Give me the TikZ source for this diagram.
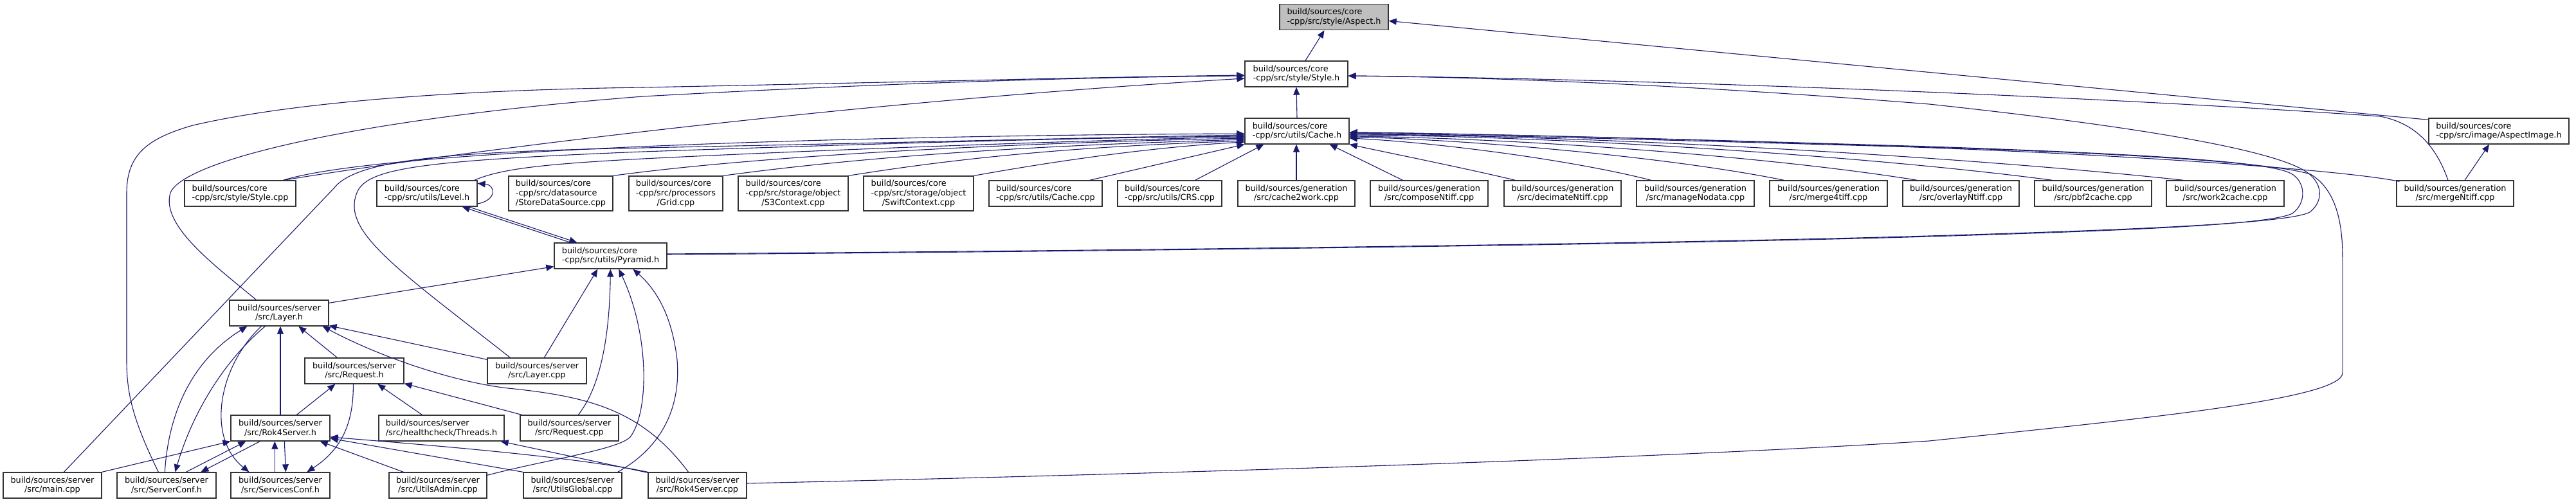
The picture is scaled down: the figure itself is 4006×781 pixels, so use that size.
\documentclass[tikz,border=0pt]{standalone}
\usepackage{fontspec}
\setmainfont{DejaVu Sans}
\usepackage{calc}
\usetikzlibrary{arrows.meta,calc}
\definecolor{edgeblue}{HTML}{191970}
\definecolor{boxgrey}{HTML}{BFBFBF}
\newcommand\lft[2]{\makebox[\widthof{#2}][l]{#1}}
\newcommand\core[1]{\lft{build/sources/core}{#1}\\#1}
\newcommand\corethree[2]{\lft{build/sources/core}{#1}\\#1\\#2}
\begin{document}
\begin{tikzpicture}[x=1pt,y=-1pt,
  box/.style={draw=black!80, line width=1.3pt, fill=white, inner sep=0pt, align=center,
    font=\fontsize{12.8}{14.7}\selectfont, minimum height=40pt},
  tall/.style={minimum height=54pt},
  edge/.style={draw=edgeblue, line width=1.1pt, -{Triangle[length=12pt,width=10pt]}},
]
\useasboundingbox (0,0) rectangle (4006,781);

% ---- nodes ----
\node[box, fill=boxgrey, minimum width=169pt] (aspect) at (2074.5,26.5) {\core{-cpp/src/style/Aspect.h}};
\node[box, minimum width=160pt] (styleh) at (2016,115) {\core{-cpp/src/style/Style.h}};
\node[box, minimum width=162pt] (cacheh) at (2017,204) {\core{-cpp/src/utils/Cache.h}};
\node[box, minimum width=218pt] (aimg) at (3886,204) {\core{-cpp/src/image/AspectImage.h}};

\node[box, minimum width=173pt] (stylecpp) at (373.5,301) {\core{-cpp/src/style/Style.cpp}};
\node[box, minimum width=156pt] (level) at (664,301) {\core{-cpp/src/utils/Level.h}};
\node[box, tall, align=left, minimum width=162pt] (store) at (872,301) {build/sources/core\\-cpp/src/datasource\\/StoreDataSource.cpp};
\node[box, tall, minimum width=146pt] (grid) at (1051,301) {\corethree{-cpp/src/processors}{/Grid.cpp}};
\node[box, tall, minimum width=171pt] (s3) at (1233.5,301) {\corethree{-cpp/src/storage/object}{/S3Context.cpp}};
\node[box, tall, minimum width=171pt] (swift) at (1428.5,301) {\corethree{-cpp/src/storage/object}{/SwiftContext.cpp}};
\node[box, minimum width=176pt] (cachecpp) at (1626,301) {\core{-cpp/src/utils/Cache.cpp}};
\node[box, minimum width=162pt] (crs) at (1819,301) {\core{-cpp/src/utils/CRS.cpp}};
\node[box, minimum width=182pt] (c2w) at (2016,301) {build/sources/generation\\/src/cache2work.cpp};
\node[box, minimum width=183pt] (compose) at (2222.5,301) {build/sources/generation\\/src/composeNtiff.cpp};
\node[box, minimum width=182pt] (decimate) at (2430,301) {build/sources/generation\\/src/decimateNtiff.cpp};
\node[box, minimum width=183pt] (manage) at (2636.5,301) {build/sources/generation\\/src/manageNodata.cpp};
\node[box, minimum width=183pt] (merge4) at (2843.5,301) {build/sources/generation\\/src/merge4tiff.cpp};
\node[box, minimum width=181pt] (overlay) at (3049.5,301) {build/sources/generation\\/src/overlayNtiff.cpp};
\node[box, minimum width=182pt] (pbf) at (3255,301) {build/sources/generation\\/src/pbf2cache.cpp};
\node[box, minimum width=183pt] (w2c) at (3460.5,301) {build/sources/generation\\/src/work2cache.cpp};
\node[box, minimum width=182pt] (mergen) at (3818,301) {build/sources/generation\\/src/mergeNtiff.cpp};

\node[box, minimum width=175pt] (pyr) at (949.5,398) {\core{-cpp/src/utils/Pyramid.h}};
\node[box, minimum width=154pt] (layerh) at (434,487) {build/sources/server\\/src/Layer.h};
\node[box, minimum width=154pt] (requesth) at (551,577) {build/sources/server\\/src/Request.h};
\node[box, minimum width=154pt] (layercpp) at (835,577) {build/sources/server\\/src/Layer.cpp};
\node[box, minimum width=154pt] (rok4h) at (436,666) {build/sources/server\\/src/Rok4Server.h};
\node[box, minimum width=195pt] (threads) at (686.5,666) {\lft{build/sources/server}{/src/healthcheck/Threads.h}\\/src/healthcheck/Threads.h};
\node[box, minimum width=153pt] (requestcpp) at (885.5,666) {build/sources/server\\/src/Request.cpp};
\node[box, minimum width=153pt] (main) at (81.5,755) {build/sources/server\\/src/main.cpp};
\node[box, minimum width=154pt] (serverconf) at (259,755) {build/sources/server\\/src/ServerConf.h};
\node[box, minimum width=154pt] (servicesconf) at (436,755) {build/sources/server\\/src/ServicesConf.h};
\node[box, minimum width=152pt] (uadmin) at (681,755) {build/sources/server\\/src/UtilsAdmin.cpp};
\node[box, minimum width=153pt] (uglobal) at (890.5,755) {build/sources/server\\/src/UtilsGlobal.cpp};
\node[box, minimum width=153pt] (rok4cpp) at (1084.5,755) {build/sources/server\\/src/Rok4Server.cpp};

% ---- edges ----
\draw[edge] ($(styleh.north)+(14,0)$) -- ($(aspect.south)+(-15,0)$);
\draw[edge] ($(aimg.north west)+(0,3)$) -- ($(aspect.east)+(0,6)$);
\draw[edge] (cacheh.north) -- (styleh.south);
\draw[edge] ($(mergen.north)+(-11,0)$) .. controls (3790,232) and (3760,192) .. (3701,181)
   .. controls (3200,146) and (2500,122) .. ($(styleh.east)+(0,3)$);
\draw[edge] ($(pyr.east)+(0,-3)$) .. controls (2000,388) and (2700,376) .. (3000,367)
   .. controls (3300,358) and (3560,348) .. (3592,330)
   .. controls (3615,312) and (3612,282) .. (3583,265)
   .. controls (3540,240) and (3400,205) .. (3000,162)
   .. controls (2600,130) and (2300,120) .. ($(styleh.east)+(0,3)$);
\draw[edge] ($(pyr.east)+(0,-2)$) .. controls (2000,389) and (2700,377) .. (3000,368)
   .. controls (3300,359) and (3530,350) .. (3565,332)
   .. controls (3588,315) and (3585,282) .. (3563,270)
   .. controls (3530,252) and (3350,240) .. (3000,228)
   .. controls (2600,216) and (2300,208) .. ($(cacheh.east)+(0,2)$);
\draw[edge] ($(rok4cpp.east)+(0,-3)$) .. controls (1900,735) and (2600,712) .. (3000,686)
   .. controls (3350,650) and (3643,620) .. (3643,580) -- (3643,400)
   .. controls (3643,330) and (3625,290) .. (3593,271)
   .. controls (3540,255) and (3350,240) .. (3000,229)
   .. controls (2600,216) and (2300,208) .. ($(cacheh.east)+(0,2)$);
\draw[edge] ($(mergen.north west)+(5,2)$) .. controls (3650,265) and (3300,240) .. (2950,228)
   .. controls (2600,218) and (2300,210) .. ($(cacheh.east)+(0,3)$);
\draw[edge] ($(mergen.north)+(15,0)$) -- ($(aimg.south)+(-15,0)$);

\draw[edge] ($(level.south east)+(-14,0)$) -- ($(pyr.north west)+(36,0)$);
\draw[edge] ($(pyr.north west)+(26,0)$) -- ($(level.south east)+(-24,0)$);
\draw[edge] ($(level.east)+(0,16)$) .. controls (772,312) and (772,288) .. ($(level.north east)+(0,5)$);
\draw[edge] ($(level.north east)+(-5,0)$) .. controls (780,262) and (850,255) .. (1000,247)
   .. controls (1300,232) and (1700,218) .. ($(cacheh.west)+(0,9)$);

\draw[edge] ($(stylecpp.north east)+(-20,0)$) .. controls (700,238) and (1300,160) .. ($(styleh.west)+(0,7)$);
\draw[edge] ($(stylecpp.north east)+(-20,0)$) .. controls (600,230) and (1400,210) .. ($(cacheh.west)+(0,4)$);
\draw[edge] ($(main.north)+(18,0)$) -- (520,292) .. controls (555,248) and (700,236) .. (1000,230)
   .. controls (1400,222) and (1700,214) .. ($(cacheh.west)+(0,6)$);
\draw[edge] ($(layercpp.north west)+(36,0)$) .. controls (620,420) and (530,360) .. (555,300)
   .. controls (570,262) and (650,250) .. (1000,236)
   .. controls (1400,222) and (1700,214) .. ($(cacheh.west)+(0,8)$);
\draw[edge] (store.north east) .. controls (1200,240) and (1600,222) .. ($(cacheh.west)+(0,11)$);
\draw[edge] (grid.north east) .. controls (1400,236) and (1700,224) .. ($(cacheh.west)+(0,13)$);
\draw[edge] (s3.north east) .. controls (1550,236) and (1750,226) .. ($(cacheh.west)+(0,15)$);
\draw[edge] (swift.north east) .. controls (1700,240) and (1840,226) .. ($(cacheh.west)+(0,17)$);
\draw[edge] ($(cachecpp.north east)+(-20,0)$) -- (cacheh.south west);
\draw[edge] ($(crs.north east)+(-42,0)$) -- ($(cacheh.south west)+(30,0)$);
\draw[edge] (c2w.north) -- (c2w.north |- cacheh.south);
\draw[edge] ($(compose.north west)+(51,0)$) -- ($(cacheh.south east)+(-31,0)$);
\draw[edge] ($(decimate.north west)+(18,0)$) .. controls (2280,262) and (2160,238) .. (cacheh.south east);
\draw[edge] ($(manage.north west)+(23,0)$) .. controls (2450,250) and (2240,222) .. ($(cacheh.east)+(0,11)$);
\draw[edge] ($(merge4.north west)+(23,0)$) .. controls (2600,245) and (2300,218) .. ($(cacheh.east)+(0,9)$);
\draw[edge] ($(overlay.north west)+(23,0)$) .. controls (2750,243) and (2360,215) .. ($(cacheh.east)+(0,8)$);
\draw[edge] ($(pbf.north west)+(28,0)$) .. controls (2910,243) and (2430,212) .. ($(cacheh.east)+(0,6)$);
\draw[edge] ($(w2c.north west)+(27,0)$) .. controls (3060,244) and (2490,211) .. ($(cacheh.east)+(0,5)$);

\draw[edge] ($(layerh.north west)+(42,0)$) .. controls (330,410) and (250,350) .. (265,300)
   .. controls (285,250) and (550,185) .. (1000,150)
   .. controls (1400,128) and (1700,120) .. ($(styleh.west)+(0,3)$);
\draw[edge] ($(serverconf.north west)+(65,0)$) .. controls (205,650) and (197,610) .. (197,560) -- (197,300)
   .. controls (197,240) and (230,215) .. (300,195)
   .. controls (450,160) and (700,140) .. (1000,136)
   .. controls (1400,128) and (1700,120) .. ($(styleh.west)+(0,2)$);
\draw[edge] ($(layerh.north east)+(0,5)$) -- ($(pyr.south west)+(0,-4)$);
\draw[edge] ($(serverconf.north west)+(75,0)$) .. controls (262,640) and (300,560) .. ($(layerh.south west)+(28,0)$);
\draw[edge] ($(layerh.south west)+(56,0)$) .. controls (350,560) and (300,640) .. ($(serverconf.north west)+(91,0)$);
\draw[edge] ($(layerh.south west)+(50,0)$) .. controls (340,570) and (320,680) .. ($(servicesconf.north west)+(29,0)$);
\draw[edge] (rok4h.north) -- (rok4h.north |- layerh.south);
\draw[edge] ($(requesth.north west)+(51,0)$) -- ($(layerh.south west)+(108,0)$);
\draw[edge] ($(layercpp.north west)+(0,3)$) -- ($(layerh.south east)+(0,-1)$);
\draw[edge] ($(rok4cpp.north)+(-14,0)$) .. controls (1000,640) and (920,618) .. (800,605)
   .. controls (720,598) and (600,560) .. ($(layerh.south east)+(-10,0)$);
\draw[edge] ($(rok4h.north west)+(103,0)$) -- ($(requesth.south west)+(48,0)$);
\draw[edge] ($(requesth.south west)+(76,0)$) .. controls (550,660) and (530,700) .. ($(servicesconf.north west)+(119,0)$);
\draw[edge] ($(threads.north west)+(68,0)$) -- ($(requesth.south west)+(114,0)$);
\draw[edge] ($(requestcpp.north west)+(3,0)$) -- ($(requesth.south east)+(0,-1)$);
\draw[edge] (main.north east) -- (rok4h.south west);
\draw[edge] ($(serverconf.north west)+(108,0)$) -- ($(rok4h.south west)+(24,0)$);
\draw[edge] ($(rok4h.south west)+(46,0)$) -- ($(serverconf.north west)+(131,0)$);
\draw[edge] ($(servicesconf.north west)+(69,0)$) -- ($(rok4h.south west)+(69,0)$);
\draw[edge] ($(rok4h.south west)+(84,0)$) -- ($(servicesconf.north west)+(86,0)$);
\draw[edge] ($(uadmin.north west)+(23,0)$) -- ($(rok4h.south east)+(-16,0)$);
\draw[edge] (uglobal.north west) -- ($(rok4h.east)+(0,16)$);
\draw[edge] (rok4cpp.north west) .. controls (900,712) and (700,695) .. ($(rok4h.east)+(0,14)$);
\draw[edge] ($(rok4cpp.north west)+(0,1)$) -- ($(threads.south east)+(-6,0)$);
\draw[edge] ($(layercpp.north west)+(89,0)$) -- ($(pyr.south west)+(68,0)$);
\draw[edge] ($(requestcpp.north west)+(91,0)$) .. controls (935,600) and (948,520) .. ($(pyr.south west)+(88,0)$);
\draw[edge] ($(uadmin.north east)+(0,5)$) .. controls (850,715) and (960,700) .. (980,680)
   .. controls (1010,640) and (1010,520) .. ($(pyr.south west)+(101,0)$);
\draw[edge] ($(uglobal.north east)+(-7,0)$) .. controls (1040,690) and (1058,620) .. (1053,560)
   .. controls (1045,490) and (1020,450) .. ($(pyr.south west)+(123,0)$);
\end{tikzpicture}
\end{document}
